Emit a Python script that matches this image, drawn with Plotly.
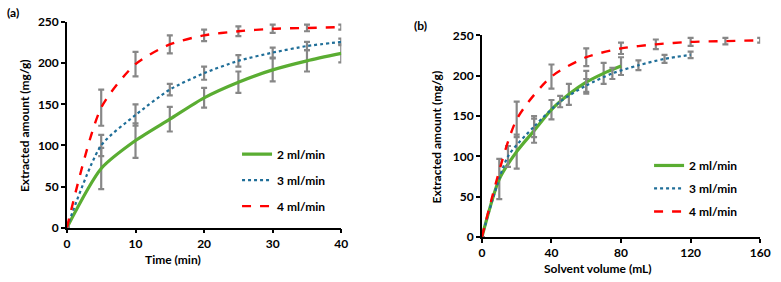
import plotly.graph_objects as go

# ---- data ----
time_min = [0, 5, 10, 15, 20, 25, 30, 35, 40]
flow_rates = [2, 3, 4]
series_names = ["2 ml/min", "3 ml/min", "4 ml/min"]
y_2ml = [0, 72, 106, 132, 158, 177, 192, 203, 212]
y_3ml = [0, 100, 137, 168, 188, 203, 213, 221, 226]
y_4ml = [0, 146, 199, 223, 234, 239, 242, 243, 244]
err_2ml = [0, 25, 21, 15, 12, 13, 14, 13, 11]
err_3ml = [0, 13, 13, 7, 8, 7, 6, 5, 4]
err_4ml = [0, 22, 15, 11, 7, 6, 5, 4, 3]
x_ticks_a = [0, 10, 20, 30, 40]
x_ticks_b = [0, 40, 80, 120, 160]
y_ticks = [0, 50, 100, 150, 200, 250]

ys = [y_2ml, y_3ml, y_4ml]
errs = [err_2ml, err_3ml, err_4ml]
colors = ["#5AAD32", "#1F6E98", "#FF0000"]
dashes = ["solid", "dot", "dash"]
widths = [3.2, 2.2, 2.4]

W, H = 781, 282
FONT = "Lato"
fig = go.Figure()

for panel in (0, 1):
    for i in range(3):
        if panel == 0:
            xv = time_min
        else:
            xv = [t * flow_rates[i] for t in time_min]
        fig.add_trace(go.Scatter(
            x=xv, y=ys[i], mode="lines", name=series_names[i],
            line=dict(color=colors[i], dash=dashes[i], width=widths[i], shape="spline", smoothing=0.7),
            error_y=dict(type="data", array=errs[i], color="#878787", thickness=2.2, width=3),
            xaxis="x" if panel == 0 else "x2",
            yaxis="y" if panel == 0 else "y2",
            legend="legend" if panel == 0 else "legend2",
            legendgroup=f"p{panel}g{i}",
        ))

ax_common = dict(
    showline=True, linecolor="black", linewidth=1.5, ticks="outside", ticklen=4,
    tickcolor="black", tickwidth=1.5, showgrid=False, zeroline=False,
    tickfont=dict(family=FONT, size=12, color="black", weight="bold"),
)

leg_font = dict(family=FONT, size=12, color="black", weight="bold")
fig.update_layout(
    width=W, height=H, margin=dict(l=0, r=0, t=0, b=0),
    paper_bgcolor="white", plot_bgcolor="white",
    xaxis=dict(domain=[65 / W, 344 / W], range=[0, 40], tickvals=x_ticks_a, anchor="y", **ax_common),
    yaxis=dict(domain=[1 - 232 / H, 1 - 15 / H], range=[0, 250], tickvals=y_ticks, anchor="x", **ax_common),
    xaxis2=dict(domain=[487 / W, 770 / W], range=[0, 160], tickvals=x_ticks_b, anchor="y2", **ax_common),
    yaxis2=dict(domain=[1 - 242 / H, 1 - 29 / H], range=[0, 250], tickvals=y_ticks, anchor="x2", **ax_common),
    legend=dict(x=238 / W, y=1 - 139 / H, xanchor="left", yanchor="top", bgcolor="rgba(0,0,0,0)",
                font=leg_font, tracegroupgap=7, itemwidth=30),
    legend2=dict(x=657 / W, y=1 - 151 / H, xanchor="left", yanchor="top", bgcolor="rgba(0,0,0,0)",
                 font=leg_font, tracegroupgap=4, itemwidth=30),
    showlegend=True,
)

title_font = dict(family=FONT, size=12, color="black", weight="bold")
annos = [
    dict(text="(a)", x=2 / W, y=1 - 5 / H, xanchor="left", yanchor="middle", font=title_font),
    dict(text="(b)", x=416 / W, y=1 - 18 / H, xanchor="left", yanchor="middle", font=title_font),
    dict(text="Extracted amount (mg/g)", x=22 / W, y=1 - 124 / H, textangle=-90, xanchor="center", yanchor="middle", font=title_font),
    dict(text="Extracted amount (mg/g)", x=441 / W, y=1 - 136 / H, textangle=-90, xanchor="center", yanchor="middle", font=title_font),
    dict(text="Time (min)", x=173 / W, y=1 - 266 / H, xanchor="center", yanchor="middle", font=title_font),
    dict(text="Solvent volume (mL)", x=605 / W, y=1 - 275 / H, xanchor="center", yanchor="middle", font=title_font),
]
for a in annos:
    a.update(xref="paper", yref="paper", showarrow=False)
fig.update_layout(annotations=annos)

fig.write_html("out.html")
